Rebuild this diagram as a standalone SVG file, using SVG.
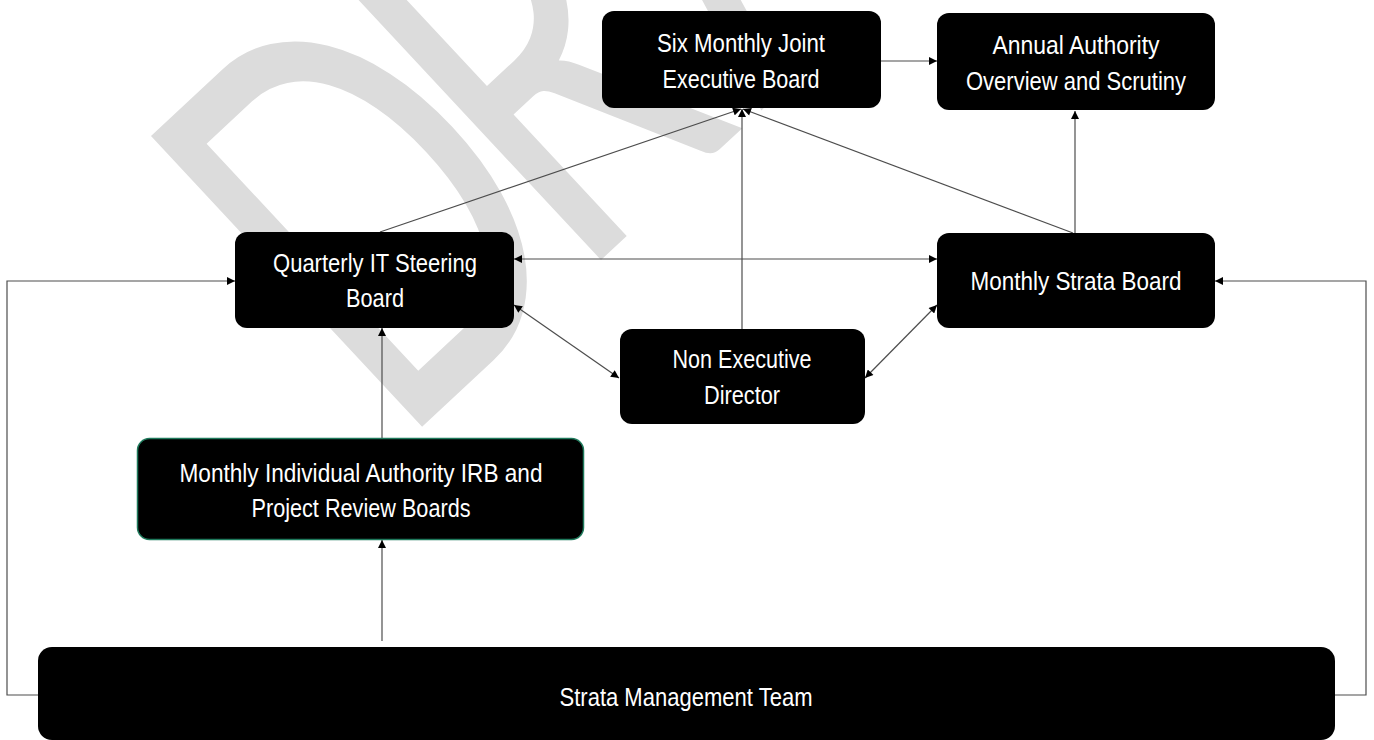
<svg xmlns="http://www.w3.org/2000/svg" width="1374" height="740" viewBox="0 0 1374 740">
  <style>
    .box { fill: #000000; }
    .box-green { fill: #000000; stroke: #1f7a5c; stroke-width: 1.5; }
    .label { fill: #ffffff; font-family: "Liberation Sans", Arial, sans-serif; font-size: 25px; text-anchor: middle; }
    .link { fill: none; stroke: #4d4d4d; stroke-width: 1.2; }
    .watermark { fill: #dcdcdc; font-family: Lato, "Open Sans", sans-serif; font-size: 365px; }
  </style>
  <defs>
    <marker id="arrow" viewBox="0 0 10 10" refX="10" refY="5" markerWidth="9" markerHeight="8" markerUnits="userSpaceOnUse" orient="auto-start-reverse">
      <path d="M0,0 L10,5 L0,10 z" fill="#000000"/>
    </marker>
  </defs>

  <rect width="1374" height="740" fill="#ffffff"/>

  <!-- background watermark, tilted and stretched -->
  <g id="watermark">
    <text class="watermark" transform="translate(424,425) rotate(-43) scale(1,1.52)" x="-36" y="0" dx="0 -28 28" letter-spacing="-5">DRAFT</text>
  </g>

  <!-- connectors -->
  <g id="connectors">
    <path class="link" d="M881,61 H937" marker-end="url(#arrow)"/>
    <path class="link" d="M380,232 L741,109" marker-end="url(#arrow)"/>
    <path class="link" d="M1073,233 L743,109" marker-end="url(#arrow)"/>
    <path class="link" d="M742,329 V109" marker-end="url(#arrow)"/>
    <path class="link" d="M1075,233 V111" marker-end="url(#arrow)"/>
    <path class="link" d="M514,259 H937" marker-start="url(#arrow)" marker-end="url(#arrow)"/>
    <path class="link" d="M514,305 L619,378" marker-start="url(#arrow)" marker-end="url(#arrow)"/>
    <path class="link" d="M865,378 L937,305" marker-start="url(#arrow)" marker-end="url(#arrow)"/>
    <path class="link" d="M382,438 V328" marker-end="url(#arrow)"/>
    <path class="link" d="M382,641 V540" marker-end="url(#arrow)"/>
    <path class="link" d="M38,695 H7 V281 H235" marker-end="url(#arrow)"/>
    <path class="link" d="M1335,695 H1366 V281 H1215" marker-end="url(#arrow)"/>
  </g>

  <!-- nodes -->
  <g id="six-monthly-board">
    <rect class="box" x="602" y="11" width="279" height="97" rx="12"/>
    <text class="label" x="741" y="52" textLength="168" lengthAdjust="spacingAndGlyphs">Six Monthly Joint</text>
    <text class="label" x="741" y="88" textLength="157" lengthAdjust="spacingAndGlyphs">Executive Board</text>
  </g>

  <g id="annual-overview">
    <rect class="box" x="937" y="13" width="278" height="97" rx="12"/>
    <text class="label" x="1076" y="54" textLength="167" lengthAdjust="spacingAndGlyphs">Annual Authority</text>
    <text class="label" x="1076" y="90" textLength="220" lengthAdjust="spacingAndGlyphs">Overview and Scrutiny</text>
  </g>

  <g id="quarterly-steering">
    <rect class="box" x="235" y="232" width="279" height="96" rx="12"/>
    <text class="label" x="375" y="272" textLength="204" lengthAdjust="spacingAndGlyphs">Quarterly IT Steering</text>
    <text class="label" x="375" y="307" textLength="58" lengthAdjust="spacingAndGlyphs">Board</text>
  </g>

  <g id="monthly-strata-board">
    <rect class="box" x="937" y="233" width="278" height="95" rx="12"/>
    <text class="label" x="1076" y="290" textLength="211" lengthAdjust="spacingAndGlyphs">Monthly Strata Board</text>
  </g>

  <g id="non-executive-director">
    <rect class="box" x="620" y="329" width="245" height="95" rx="12"/>
    <text class="label" x="742" y="368" textLength="139" lengthAdjust="spacingAndGlyphs">Non Executive</text>
    <text class="label" x="742" y="404" textLength="76" lengthAdjust="spacingAndGlyphs">Director</text>
  </g>

  <g id="individual-review-boards">
    <rect class="box-green" x="137.5" y="438.5" width="446" height="101" rx="12"/>
    <text class="label" x="361" y="482" textLength="363" lengthAdjust="spacingAndGlyphs">Monthly Individual Authority IRB and</text>
    <text class="label" x="361" y="517" textLength="219" lengthAdjust="spacingAndGlyphs">Project Review Boards</text>
  </g>

  <g id="strata-management-team">
    <rect class="box" x="38" y="647" width="1297" height="93" rx="14"/>
    <text class="label" x="686" y="706" textLength="253" lengthAdjust="spacingAndGlyphs">Strata Management Team</text>
  </g>
</svg>
